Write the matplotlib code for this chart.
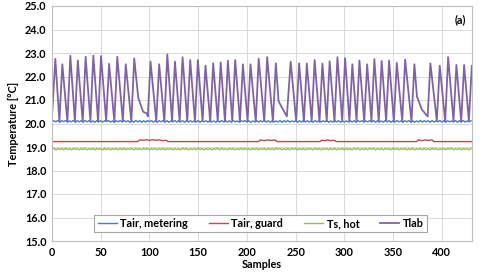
import matplotlib
matplotlib.use("Agg")
import matplotlib.pyplot as plt
import numpy as np

# ---- data ----
tlab_x = [0, 3.4, 7.6, 10.6, 15.8, 18.8, 23.5, 26.5, 31.5, 34.5, 39.4, 42.4, 47.3, 50.3, 55.6, 58.6,
          64.0, 67.0, 72.7, 75.7, 81.4, 84.4, 88.5, 93.5, 97.5, 98.3, 101.1, 107.0, 110.0, 115.3, 118.3,
          123.2, 126.2, 131.0, 134.0, 138.8, 141.8, 146.7, 149.7, 154.5, 157.5, 162.4, 165.4, 170.1, 173.1,
          177.5, 180.5, 185.0, 188.0, 192.9, 195.9, 200.7, 203.7, 209.1, 212.1, 217.8, 220.8, 226.7, 229.7,
          232.5, 237.0, 241.0, 244.9, 250.6, 253.6, 258.5, 261.5, 266.5, 269.5, 274.5, 277.5, 281.9, 284.9,
          289.9, 292.9, 297.8, 300.8, 305.2, 308.2, 312.5, 315.5, 320.4, 323.4, 327.8, 330.8, 335.3, 338.3,
          342.9, 345.9, 350.8, 353.8, 359.4, 362.4, 368.9, 371.9, 374.5, 379.5, 383.0, 385.5, 388.3, 394.9,
          397.9, 403.5, 406.5, 412.0, 415.0, 419.9, 422.9, 427.8, 430.8]
tlab_y = [20.30, 22.75, 20.10, 22.52, 20.08, 22.88, 20.10, 22.68, 20.07, 22.84, 20.10, 22.89, 20.08, 22.87, 20.10, 22.54,
          20.07, 22.84, 20.10, 22.52, 20.08, 22.77, 21.10, 20.50, 20.42, 20.30, 22.63, 20.10, 22.52, 20.08, 22.94,
          20.10, 22.63, 20.07, 22.82, 20.10, 22.70, 20.08, 22.70, 20.10, 22.46, 20.07, 22.56, 20.10, 22.60,
          20.08, 22.67, 20.10, 22.70, 20.07, 22.52, 20.10, 22.52, 20.08, 22.76, 20.10, 22.82, 20.07, 22.56,
          20.95, 20.60, 20.30, 22.63, 20.10, 22.56, 20.08, 22.55, 20.10, 22.70, 20.07, 22.55, 20.10, 22.65,
          20.08, 22.82, 20.10, 22.78, 20.07, 22.52, 20.10, 22.68, 20.08, 22.52, 20.10, 22.74, 20.07, 22.66,
          20.10, 22.68, 20.08, 22.58, 20.10, 22.72, 20.07, 22.52, 21.15, 20.60, 20.42, 20.30, 22.56, 20.10,
          22.46, 20.08, 22.82, 20.10, 22.49, 20.07, 22.49, 20.10, 22.45]

metering_y = [
    20.06, 20.12, 20.07, 20.13, 20.05, 20.12, 20.08, 20.13, 20.06, 20.11, 20.07, 20.13, 20.05, 20.12, 20.07, 20.12, 20.06, 20.13,
    20.07, 20.12, 20.06, 20.11, 20.05, 20.13, 20.07, 20.12, 20.06, 20.12, 20.08, 20.13, 20.06, 20.11, 20.05, 20.12, 20.07, 20.13,
    20.06, 20.13, 20.07, 20.12, 20.05, 20.11, 20.06, 20.13, 20.07, 20.12, 20.05, 20.12, 20.06, 20.13, 20.08, 20.12, 20.06, 20.11,
    20.05, 20.12, 20.07, 20.13, 20.06, 20.12, 20.05, 20.11, 20.07, 20.13, 20.06, 20.12, 20.07, 20.12, 20.05, 20.13, 20.06, 20.12,
    20.07, 20.11, 20.06, 20.13, 20.05, 20.12, 20.07, 20.12, 20.06, 20.13, 20.07, 20.11, 20.05, 20.12, 20.06, 20.13, 20.07, 20.12,
    20.06, 20.12, 20.05, 20.13, 20.07, 20.11, 20.06, 20.12, 20.08, 20.13, 20.06, 20.12, 20.05, 20.11, 20.07, 20.13, 20.06, 20.12,
    20.07, 20.13, 20.06, 20.12, 20.05, 20.12, 20.07, 20.11, 20.06, 20.13, 20.05, 20.12, 20.07, 20.13, 20.06, 20.11, 20.07, 20.12,
    20.05, 20.12, 20.06, 20.13, 20.07, 20.12, 20.06, 20.11, 20.05, 20.13, 20.07, 20.12, 20.06, 20.12, 20.07, 20.13, 20.05, 20.11,
    20.06, 20.13, 20.07, 20.12, 20.05, 20.12, 20.06, 20.11, 20.07, 20.13, 20.06, 20.12, 20.05, 20.13, 20.07, 20.12, 20.06, 20.11,
    20.07, 20.12, 20.06, 20.13, 20.05, 20.12, 20.07, 20.11, 20.06, 20.13, 20.07, 20.12, 20.05, 20.12, 20.06, 20.13, 20.07, 20.11,
    20.05, 20.12, 20.07, 20.13, 20.06, 20.12, 20.05, 20.11, 20.07, 20.13, 20.06, 20.12, 20.07, 20.12, 20.05, 20.13, 20.06, 20.11,
    20.07, 20.13, 20.06, 20.12, 20.05, 20.12, 20.07, 20.11, 20.06, 20.13, 20.05, 20.12, 20.07, 20.13, 20.06, 20.11, 20.07, 20.12,
]

tshot_y = [
    18.89, 18.94, 18.88, 18.93, 18.90, 18.94, 18.88, 18.95, 18.89, 18.93, 18.88, 18.94, 18.90, 18.93, 18.88, 18.94, 18.89, 18.95,
    18.88, 18.93, 18.89, 18.94, 18.88, 18.94, 18.90, 18.93, 18.88, 18.95, 18.89, 18.94, 18.88, 18.93, 18.90, 18.94, 18.88, 18.94,
    18.89, 18.95, 18.88, 18.93, 18.90, 18.94, 18.88, 18.94, 18.89, 18.93, 18.88, 18.95, 18.89, 18.94, 18.88, 18.93, 18.90, 18.94,
    18.88, 18.94, 18.89, 18.95, 18.88, 18.93, 18.90, 18.94, 18.88, 18.94, 18.89, 18.93, 18.88, 18.95, 18.90, 18.94, 18.88, 18.93,
    18.89, 18.94, 18.88, 18.95, 18.90, 18.93, 18.88, 18.94, 18.89, 18.94, 18.88, 18.93, 18.90, 18.95, 18.88, 18.94, 18.89, 18.93,
    18.88, 18.94, 18.90, 18.94, 18.88, 18.93, 18.89, 18.95, 18.88, 18.94, 18.90, 18.93, 18.88, 18.94, 18.89, 18.95, 18.88, 18.93,
    18.90, 18.94, 18.88, 18.94, 18.89, 18.93, 18.88, 18.95, 18.90, 18.94, 18.88, 18.93, 18.89, 18.94, 18.88, 18.94, 18.90, 18.95,
    18.88, 18.93, 18.89, 18.94, 18.88, 18.94, 18.90, 18.93, 18.88, 18.95, 18.89, 18.94, 18.88, 18.93, 18.90, 18.94, 18.88, 18.94,
    18.89, 18.95, 18.88, 18.93, 18.90, 18.94, 18.88, 18.94, 18.89, 18.93, 18.88, 18.95, 18.90, 18.94, 18.88, 18.93, 18.89, 18.94,
    18.88, 18.94, 18.90, 18.95, 18.88, 18.93, 18.89, 18.94, 18.88, 18.94, 18.90, 18.93, 18.88, 18.95, 18.89, 18.94, 18.88, 18.93,
    18.90, 18.94, 18.88, 18.94, 18.89, 18.95, 18.88, 18.93, 18.90, 18.94, 18.88, 18.94, 18.89, 18.93, 18.88, 18.95, 18.90, 18.94,
    18.88, 18.93, 18.89, 18.94, 18.88, 18.94, 18.90, 18.95, 18.88, 18.93, 18.89, 18.94, 18.88, 18.94, 18.90, 18.93, 18.88, 18.94,
]

guard_x = [0, 88, 90, 94, 97, 100, 103, 106, 110, 114, 117, 119,
           212, 214, 218, 221, 225, 229, 231,
           275, 277, 280, 283, 286, 289, 292,
           374, 376, 380, 383, 386, 390, 392, 431]
guard_y = [19.23, 19.23, 19.30, 19.29, 19.31, 19.28, 19.31, 19.29, 19.30, 19.27, 19.29, 19.23,
           19.23, 19.30, 19.27, 19.30, 19.28, 19.30, 19.23,
           19.23, 19.29, 19.27, 19.30, 19.27, 19.29, 19.23,
           19.23, 19.30, 19.27, 19.30, 19.28, 19.30, 19.23, 19.23]

labels = ["Tair, metering", "Tair, guard", "Ts, hot", "Tlab"]
colors = ["#4A7EBB", "#BE4B48", "#98B954", "#8064A2"]

x_ticks = [0, 50, 100, 150, 200, 250, 300, 350, 400]
y_ticks = [15.0, 16.0, 17.0, 18.0, 19.0, 20.0, 21.0, 22.0, 23.0, 24.0, 25.0]

plt.rcParams['font.family'] = ['Lato', 'DejaVu Sans']

fig = plt.figure(figsize=(4.8, 2.78), dpi=100)
ax = fig.add_axes([52/480, 37/278, 420/480, 235/278])

mx = np.arange(len(metering_y)) * 2
tx = np.arange(len(tshot_y)) * 2
ax.plot(mx, metering_y, color=colors[0], lw=1.0, label=labels[0])
ax.plot(guard_x, guard_y, color=colors[1], lw=1.0, label=labels[1])
ax.plot(tx, tshot_y, color=colors[2], lw=1.0, label=labels[2])
ax.plot(tlab_x, tlab_y, color=colors[3], lw=1.3, label=labels[3])

ax.set_xlim(0, 431)
ax.set_ylim(15, 25)
ax.set_xticks(x_ticks)
ax.set_yticks(y_ticks)
ax.set_yticklabels([f"{v:.1f}" for v in y_ticks])
ax.tick_params(length=0, labelsize=7.8, pad=4)
for t in ax.get_xticklabels() + ax.get_yticklabels():
    t.set_fontweight('bold')
ax.grid(True, color="#D9D9D9", lw=0.7)
ax.set_axisbelow(True)
for s in ax.spines.values():
    s.set_color("#BFBFBF")
    s.set_linewidth(0.8)

ax.set_xlabel("Samples", fontsize=7.8, fontweight='bold', labelpad=1)
ax.set_ylabel("Temperature [°C]", fontsize=7.8, fontweight='bold', labelpad=4)
ax.text(0.985, 0.94, "(a)", transform=ax.transAxes, ha='right', va='center', fontsize=7.8, fontweight='bold')

leg = ax.legend(loc='lower center', bbox_to_anchor=(0.4965, 0.014), ncol=4, fontsize=7.8,
                frameon=True, fancybox=False, edgecolor="#A6A6A6", handlelength=1.8,
                handletextpad=0.3, columnspacing=1.9, borderpad=0.3, framealpha=1)
leg.get_frame().set_linewidth(0.8)
for t in leg.get_texts():
    t.set_fontweight('bold')

fig.savefig("out.png", dpi=100)
